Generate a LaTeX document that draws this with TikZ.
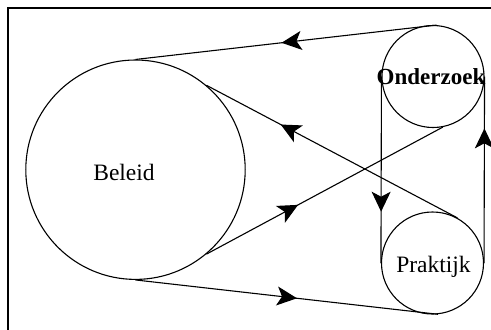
\documentclass[tikz,border=0pt]{standalone}
\usepackage{fontspec}
\setmainfont{Liberation Serif}
\usetikzlibrary{arrows.meta,decorations.markings}

\tikzset{
  ring/.style={draw, circle, line width=1.1pt, inner sep=0pt},
  caption/.style={anchor=base, inner sep=0pt, font=\fontsize{23.5}{28}\selectfont},
  flow/.style={line width=1.1pt,
    postaction={decorate, decoration={markings,
      mark=at position #1 with {\arrow{Stealth[length=20pt, width=19pt, inset=5pt]}}}}},
}

\begin{document}
\begin{tikzpicture}[x=1pt, y=-1pt]
  \useasboundingbox (0,0) rectangle (491,330);

  % outer frame (only its top and left edges fall inside the page)
  \draw[line width=1.4pt] (491,8) -- (8,8) -- (8,330);

  % the three circles
  \node[ring, minimum size=219.4pt] (B) at (135.5,169.7) {};
  \node[ring, minimum size=102pt]   (O) at (433,76.5) {};
  \node[ring, minimum size=102pt]   (P) at (432.5,263) {};

  % their captions
  \node[caption] (tB) at (124,180) {Beleid};
  \node[caption, font=\fontsize{23}{28}\selectfont\bfseries] (tO) at (431,84) {Onderzoek};
  \node[caption] (tP) at (433.5,272.7) {Praktijk};

  % connecting flows
  \draw[flow=0.515] (O.86) -- (B.north);
  \draw[flow=0.534] (B.south) -- (P.-84);
  \draw[flow=0.704] (P.61) -- (B.50);
  \draw[flow=0.388] (B.-50) -- (O.-79);
  \draw[flow=0.725] (O.west) -- (P.west);
  \draw[flow=0.722] (P.east) -- (O.east);
\end{tikzpicture}
\end{document}
